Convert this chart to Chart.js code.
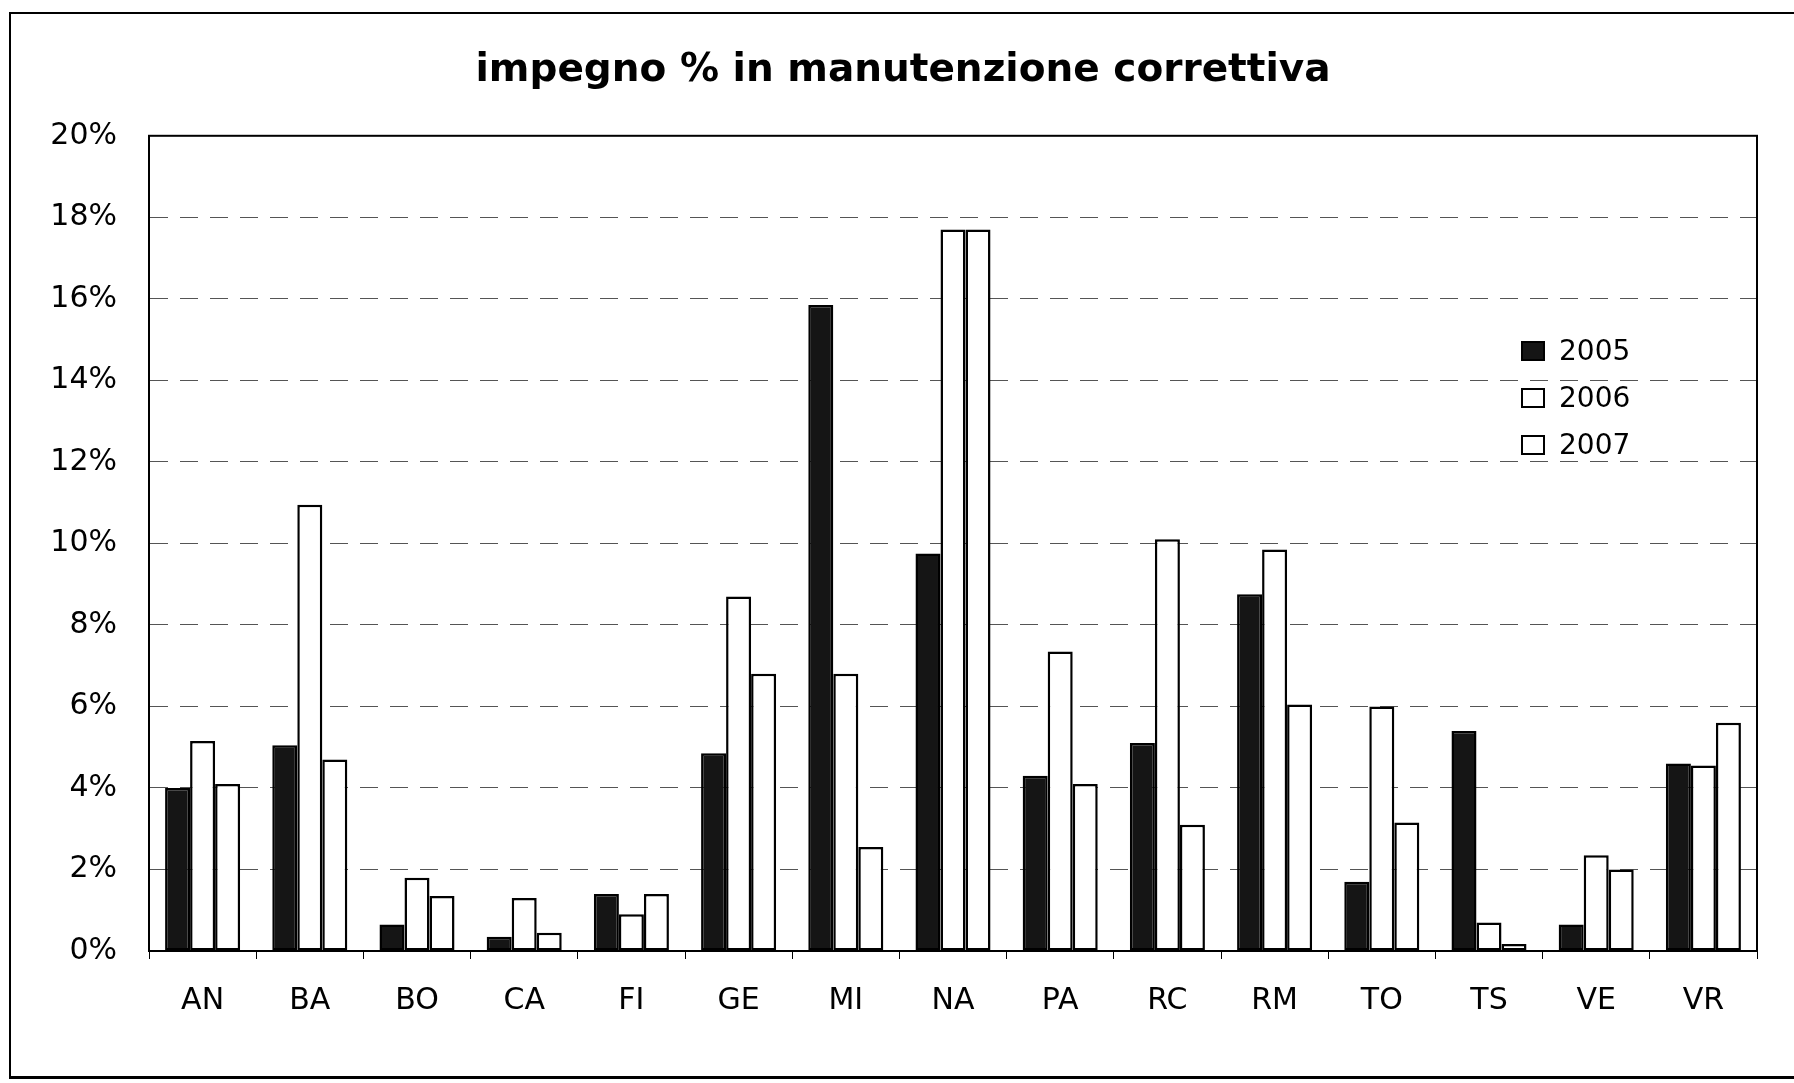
<!DOCTYPE html>
<html>
<head>
<meta charset="utf-8">
<script src="https://cdn.jsdelivr.net/npm/chart.js@4/dist/chart.umd.min.js"></script>
<style>
  html, body { margin: 0; padding: 0; background: #fff; }
  #wrap { position: relative; width: 1794px; height: 1083px; overflow: hidden; }
  #frame { position: absolute; left: 9px; top: 12px; width: 1800px; height: 1062px;
           border-left: 2px solid #000; border-top: 2px solid #000; border-bottom: 3px solid #000; }
  canvas { position: absolute; left: 0; top: 0; }
  #legend { position: absolute; left: 1521px; top: 327px; font-family: "DejaVu Sans", sans-serif;
            font-size: 28px; color: #000; }
  .li { display: flex; align-items: center; height: 47px; }
  .sw { width: 20px; height: 16px; border: 2px solid #000; margin-right: 14px; box-sizing: content-box; }
</style>
</head>
<body>
<div id="wrap">
  <div id="frame"></div>
  <canvas id="c" width="1794" height="1083"></canvas>
  <div id="legend"></div>
</div>
<script>
const titleText = "impegno % in manutenzione correttiva";
const categories = ["AN","BA","BO","CA","FI","GE","MI","NA","PA","RC","RM","TO","TS","VE","VR"];
const seriesNames = ["2005","2006","2007"];
const values2005 = [4.0, 5.05, 0.65, 0.35, 1.4, 4.85, 15.85, 9.75, 4.3, 5.1, 8.75, 1.7, 5.4, 0.65, 4.6];
const values2006 = [5.15, 10.95, 1.8, 1.3, 0.9, 8.7, 6.8, 17.7, 7.35, 10.1, 9.85, 6.0, 0.7, 2.35, 4.55];
const values2007 = [4.1, 4.7, 1.35, 0.45, 1.4, 6.8, 2.55, 17.7, 4.1, 3.1, 6.05, 3.15, 0.17, 2.0, 5.6];
const yTicks = [0, 2, 4, 6, 8, 10, 12, 14, 16, 18, 20];

const fills = ["#151515", "#ffffff", "#ffffff"];
const allValues = [values2005, values2006, values2007];

const plotBorder = {
  id: 'plotBorder',
  afterDatasetsDraw(chart) {
    const a = chart.chartArea, ctx = chart.ctx;
    ctx.save();
    ctx.setLineDash([]);
    ctx.strokeStyle = '#000';
    ctx.lineWidth = 2;
    ctx.strokeRect(a.left, a.top, a.right - a.left, a.bottom - a.top);
    ctx.restore();
  }
};

const chart = new Chart(document.getElementById('c'), {
  type: 'bar',
  data: {
    labels: categories,
    datasets: seriesNames.map((n, i) => ({
      label: n,
      data: allValues[i],
      backgroundColor: fills[i],
      borderColor: '#000',
      borderWidth: 2.5,
      borderSkipped: false,
      categoryPercentage: 0.70,
      barPercentage: 1.0
    }))
  },
  options: {
    responsive: false,
    animation: false,
    devicePixelRatio: 1,
    layout: { padding: { left: 49, right: 37, top: 0, bottom: 52 } },
    plugins: {
      legend: { display: false },
      tooltip: { enabled: false },
      title: {
        display: true,
        text: titleText,
        color: '#000',
        font: { family: 'DejaVu Sans', size: 39, weight: 'bold' },
        padding: { top: 47, bottom: 42 }
      }
    },
    scales: {
      x: {
        offset: true,
        grid: { display: true, drawOnChartArea: false, drawTicks: true, tickLength: 8, color: '#000', lineWidth: 1 },
        border: { display: true, color: '#000', width: 2 },
        ticks: { color: '#000', font: { family: 'DejaVu Sans', size: 30 }, padding: 24, maxRotation: 0 },
        afterFit(s) { s.height = 80; }
      },
      y: {
        min: 0, max: 20,
        afterBuildTicks(s) { s.ticks = yTicks.map(v => ({ value: v })); },
        grid: {
          drawTicks: false,
          color: (ctx) => ctx.tick && ctx.tick.value === 0 ? 'rgba(0,0,0,0)' : '#555',
          lineWidth: 1
        },
        border: { display: true, color: '#000', width: 2, dash: [18, 12] },
        ticks: {
          color: '#000', font: { family: 'DejaVu Sans', size: 30 }, padding: 32,
          callback: (v) => v + '%'
        },
        afterFit(s) { s.width = 100; }
      }
    }
  },
  plugins: [plotBorder]
});

// HTML legend from datasets
const lg = document.getElementById('legend');
chart.data.datasets.forEach((ds) => {
  const row = document.createElement('div');
  row.className = 'li';
  const sw = document.createElement('span');
  sw.className = 'sw';
  sw.style.background = ds.backgroundColor;
  const t = document.createElement('span');
  t.textContent = ds.label;
  row.appendChild(sw); row.appendChild(t);
  lg.appendChild(row);
});
</script>
</body>
</html>
